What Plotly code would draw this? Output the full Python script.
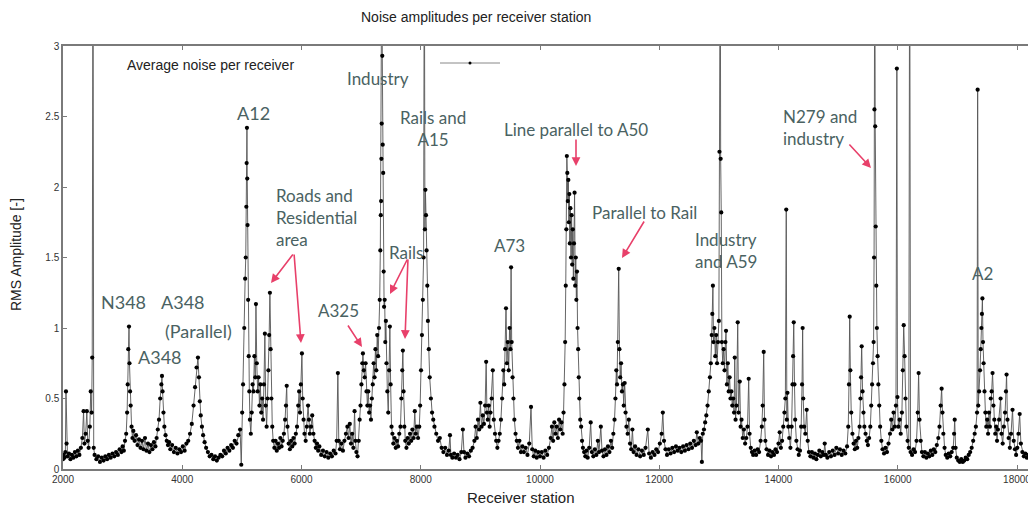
import plotly.graph_objects as go

# ---------------- data: (receiver station, RMS amplitude) ----------------
seg_2000_3500 = [
    (2000, 0.07), (2010, 0.10), (2025, 0.08), (2040, 0.12), (2050, 0.55), (2060, 0.18), (2075, 0.09),
    (2100, 0.11), (2125, 0.07), (2150, 0.10), (2175, 0.08), (2200, 0.12), (2225, 0.09), (2250, 0.13),
    (2275, 0.10), (2300, 0.15), (2325, 0.22), (2345, 0.41), (2360, 0.18), (2380, 0.25), (2400, 0.41),
    (2415, 0.20), (2430, 0.15), (2450, 0.30), (2465, 0.55), (2480, 0.40), (2490, 0.79), (2503, 4.0),
    (2515, 0.15), (2530, 0.10), (2560, 0.07), (2590, 0.09), (2620, 0.05), (2650, 0.08), (2680, 0.06),
    (2710, 0.09), (2740, 0.07), (2770, 0.10), (2800, 0.08), (2830, 0.11), (2860, 0.09), (2890, 0.12),
    (2920, 0.10), (2950, 0.14), (2980, 0.12), (3000, 0.16), (3020, 0.13), (3040, 0.20), (3060, 0.25),
    (3075, 0.40), (3085, 0.60), (3095, 0.85), (3107, 1.01), (3115, 0.75), (3125, 0.55), (3135, 0.45),
    (3150, 0.30), (3165, 0.22), (3180, 0.27), (3200, 0.20), (3225, 0.24), (3250, 0.17), (3275, 0.21),
    (3300, 0.15), (3325, 0.20), (3350, 0.14), (3375, 0.22), (3400, 0.13), (3425, 0.18), (3450, 0.12),
    (3475, 0.17),
]
seg_3500_5500 = [
    (3500, 0.14), (3525, 0.19), (3550, 0.16), (3570, 0.22), (3590, 0.28), (3610, 0.35), (3630, 0.50),
    (3650, 0.60), (3660, 0.66), (3670, 0.55), (3685, 0.40), (3700, 0.30), (3720, 0.24), (3740, 0.20),
    (3760, 0.17), (3780, 0.19), (3800, 0.14), (3830, 0.17), (3860, 0.12), (3890, 0.15), (3920, 0.11),
    (3950, 0.14), (3980, 0.12), (4010, 0.16), (4040, 0.13), (4070, 0.18), (4100, 0.20), (4130, 0.25),
    (4160, 0.32), (4190, 0.45), (4215, 0.58), (4240, 0.72), (4263, 0.79), (4280, 0.65), (4295, 0.48),
    (4310, 0.38), (4330, 0.30), (4350, 0.24), (4375, 0.19), (4400, 0.15), (4430, 0.12), (4460, 0.09),
    (4490, 0.10), (4520, 0.07), (4550, 0.09), (4580, 0.06), (4610, 0.08), (4640, 0.10), (4670, 0.09),
    (4700, 0.13), (4730, 0.11), (4760, 0.15), (4790, 0.13), (4820, 0.17), (4850, 0.15), (4880, 0.20),
    (4910, 0.18), (4940, 0.24), (4970, 0.28), (4990, 0.03), (5005, 0.40), (5020, 0.60), (5040, 1.00),
    (5055, 1.35), (5065, 1.50), (5075, 1.86), (5080, 2.17), (5085, 2.42), (5090, 2.06), (5095, 1.73),
    (5105, 1.20), (5115, 0.80), (5125, 0.55), (5135, 0.35), (5150, 0.25), (5165, 0.40), (5180, 0.60),
    (5195, 0.55), (5210, 0.80), (5225, 0.65), (5236, 1.17), (5250, 0.75), (5265, 0.55), (5280, 0.65),
    (5295, 0.45), (5310, 0.60), (5325, 0.40), (5340, 0.50), (5355, 0.35), (5370, 0.60), (5386, 0.96),
    (5400, 0.45), (5415, 0.30), (5430, 0.50), (5445, 0.70), (5458, 0.95), (5470, 1.25), (5482, 0.85),
    (5495, 0.50),
]
seg_5500_7500 = [
    (5510, 0.30), (5525, 0.20), (5545, 0.15), (5565, 0.20), (5585, 0.13), (5605, 0.18), (5625, 0.15),
    (5645, 0.22), (5665, 0.16), (5685, 0.20), (5705, 0.25), (5725, 0.35), (5740, 0.45), (5752, 0.59),
    (5765, 0.30), (5785, 0.18), (5805, 0.14), (5825, 0.20), (5845, 0.16), (5865, 0.22), (5885, 0.18),
    (5905, 0.25), (5925, 0.30), (5945, 0.45), (5960, 0.55), (5975, 0.40), (5990, 0.60), (6007, 0.82),
    (6020, 0.50), (6035, 0.35), (6050, 0.25), (6070, 0.20), (6090, 0.30), (6110, 0.45), (6125, 0.35),
    (6140, 0.25), (6160, 0.30), (6180, 0.38), (6200, 0.25), (6220, 0.20), (6240, 0.15), (6260, 0.18),
    (6280, 0.13), (6300, 0.16), (6330, 0.10), (6360, 0.13), (6390, 0.09), (6420, 0.12), (6450, 0.08),
    (6480, 0.11), (6510, 0.09), (6540, 0.13), (6570, 0.11), (6590, 0.20), (6610, 0.68), (6625, 0.20),
    (6645, 0.14), (6670, 0.18), (6695, 0.13), (6720, 0.20), (6745, 0.25), (6770, 0.30), (6790, 0.22),
    (6810, 0.32), (6830, 0.18), (6850, 0.25), (6870, 0.15), (6890, 0.41), (6905, 0.20), (6920, 0.12),
    (6940, 0.09), (6960, 0.20), (6975, 0.35), (6990, 0.45), (7005, 0.60), (7020, 0.75), (7030, 0.82),
    (7045, 0.70), (7060, 0.65), (7075, 0.75), (7090, 0.55), (7105, 0.45), (7120, 0.55), (7135, 0.40),
    (7150, 0.45), (7165, 0.35), (7180, 0.50), (7195, 0.60), (7210, 0.75), (7225, 0.65), (7240, 0.85),
    (7255, 0.70), (7270, 0.95), (7285, 0.80), (7300, 1.00), (7312, 1.20), (7322, 1.55), (7330, 1.80),
    (7335, 1.90), (7340, 2.20), (7345, 2.45), (7350, 4.0), (7355, 2.93), (7362, 2.30), (7370, 2.10),
    (7378, 1.40), (7385, 1.15), (7395, 1.20), (7405, 0.90), (7415, 1.05), (7425, 0.75), (7440, 0.55),
    (7455, 0.40), (7470, 0.70), (7482, 1.01), (7495, 0.60),
]
seg_7500_9500 = [
    (7510, 0.30), (7525, 0.25), (7540, 0.18), (7560, 0.22), (7580, 0.15), (7600, 0.20), (7620, 0.16),
    (7640, 0.25), (7660, 0.30), (7675, 0.50), (7690, 0.70), (7700, 0.84), (7712, 0.55), (7725, 0.30),
    (7740, 0.20), (7760, 0.15), (7780, 0.22), (7800, 0.18), (7820, 0.25), (7840, 0.20), (7860, 0.28),
    (7880, 0.22), (7900, 0.41), (7915, 0.25), (7935, 0.30), (7955, 0.22), (7975, 0.30), (7990, 0.45),
    (8005, 0.70), (8020, 0.95), (8035, 1.20), (8048, 1.50), (8060, 4.0), (8070, 1.70), (8078, 1.98),
    (8088, 1.80), (8098, 1.55), (8110, 1.30), (8120, 1.05), (8135, 0.85), (8150, 0.65), (8170, 0.50),
    (8190, 0.40), (8210, 0.35), (8230, 0.30), (8260, 0.25), (8290, 0.20), (8320, 0.22), (8350, 0.15),
    (8380, 0.12), (8410, 0.15), (8440, 0.10), (8470, 0.13), (8490, 0.24), (8505, 0.10), (8530, 0.08),
    (8560, 0.11), (8590, 0.08), (8620, 0.10), (8650, 0.07), (8680, 0.12), (8706, 0.28), (8725, 0.12),
    (8750, 0.08), (8780, 0.11), (8810, 0.09), (8840, 0.13), (8870, 0.15), (8900, 0.20), (8920, 0.30),
    (8940, 0.22), (8960, 0.35), (8980, 0.28), (9000, 0.47), (9020, 0.30), (9040, 0.38), (9060, 0.32),
    (9080, 0.45), (9097, 0.76), (9110, 0.40), (9125, 0.35), (9140, 0.45), (9155, 0.30), (9170, 0.40),
    (9190, 0.50), (9208, 0.70), (9225, 0.35), (9245, 0.25), (9265, 0.20), (9285, 0.15), (9305, 0.20),
    (9325, 0.25), (9345, 0.35), (9365, 0.50), (9385, 0.70), (9400, 0.60), (9415, 0.85), (9430, 1.14),
    (9445, 0.75), (9460, 0.90), (9475, 0.70), (9490, 1.00),
]
seg_9500_11500 = [
    (9505, 0.85), (9515, 1.43), (9525, 0.90), (9540, 0.65), (9555, 0.50), (9570, 0.35), (9590, 0.25),
    (9610, 0.20), (9630, 0.15), (9655, 0.20), (9680, 0.12), (9705, 0.16), (9730, 0.12), (9760, 0.15),
    (9790, 0.10), (9820, 0.18), (9849, 0.44), (9870, 0.14), (9895, 0.09), (9920, 0.13), (9945, 0.08),
    (9970, 0.12), (10000, 0.09), (10030, 0.12), (10060, 0.08), (10090, 0.13), (10120, 0.10), (10150, 0.15),
    (10180, 0.22), (10200, 0.30), (10220, 0.20), (10240, 0.33), (10260, 0.25), (10280, 0.30), (10300, 0.22),
    (10320, 0.35), (10340, 0.28), (10360, 0.33), (10380, 0.25), (10395, 0.40), (10410, 0.60), (10422, 0.90),
    (10432, 1.30), (10442, 1.70), (10450, 2.22), (10458, 2.10), (10466, 1.90), (10475, 2.05), (10484, 1.75),
    (10492, 1.95), (10500, 1.60), (10510, 1.85), (10520, 1.50), (10530, 1.80), (10540, 1.45), (10550, 1.70),
    (10560, 1.35), (10570, 1.60), (10580, 1.96), (10590, 1.30), (10600, 1.50), (10610, 1.20), (10620, 1.40),
    (10630, 1.00), (10640, 0.85), (10650, 0.65), (10660, 0.50), (10675, 0.35), (10690, 0.30), (10705, 0.20),
    (10720, 0.15), (10740, 0.12), (10760, 0.09), (10780, 0.13), (10800, 0.08), (10825, 0.15), (10850, 0.33),
    (10870, 0.12), (10895, 0.09), (10920, 0.14), (10945, 0.10), (10970, 0.20), (10990, 0.12), (11020, 0.30),
    (11040, 0.13), (11065, 0.09), (11090, 0.14), (11115, 0.10), (11140, 0.16), (11165, 0.12), (11190, 0.20),
    (11210, 0.15), (11230, 0.25), (11250, 0.35), (11265, 0.50), (11280, 0.70), (11292, 0.60), (11305, 0.90),
    (11320, 1.42), (11332, 0.85), (11345, 0.65), (11360, 0.75), (11375, 0.55), (11390, 0.60), (11405, 0.45),
    (11420, 0.61), (11435, 0.40), (11450, 0.30), (11470, 0.25), (11490, 0.35),
]
seg_11500_13500 = [
    (11510, 0.18), (11530, 0.14), (11550, 0.28), (11570, 0.12), (11595, 0.16), (11620, 0.10), (11650, 0.14),
    (11680, 0.09), (11710, 0.13), (11740, 0.10), (11770, 0.15), (11808, 0.28), (11830, 0.11), (11860, 0.08),
    (11890, 0.12), (11920, 0.10), (11950, 0.14), (11980, 0.12), (12010, 0.18), (12040, 0.25), (12060, 0.40),
    (12080, 0.20), (12105, 0.14), (12130, 0.10), (12160, 0.14), (12190, 0.11), (12220, 0.15), (12250, 0.12),
    (12280, 0.16), (12310, 0.13), (12340, 0.15), (12370, 0.12), (12400, 0.16), (12430, 0.13), (12460, 0.17),
    (12490, 0.14), (12520, 0.18), (12550, 0.15), (12580, 0.20), (12610, 0.17), (12630, 0.26), (12655, 0.18),
    (12680, 0.22), (12700, 0.20), (12715, 0.05), (12730, 0.25), (12750, 0.28), (12770, 0.33), (12790, 0.38),
    (12810, 0.45), (12830, 0.55), (12850, 0.65), (12865, 0.75), (12880, 0.95), (12890, 1.10), (12900, 1.30),
    (12910, 0.90), (12925, 1.00), (12940, 0.80), (12955, 0.95), (12970, 0.75), (12985, 0.90), (13000, 1.05),
    (13010, 2.25), (13023, 4.0), (13030, 2.20), (13040, 1.82), (13050, 0.90), (13065, 0.75), (13080, 0.85),
    (13095, 0.70), (13110, 0.90), (13120, 0.98), (13135, 0.60), (13150, 0.75), (13165, 0.55), (13180, 0.65),
    (13195, 0.50), (13210, 0.55), (13225, 0.45), (13240, 0.50), (13255, 0.40), (13266, 0.79), (13280, 0.35),
    (13295, 0.45), (13316, 1.04), (13330, 0.40), (13350, 0.62), (13365, 0.30), (13380, 0.35), (13400, 0.22),
    (13420, 0.28), (13440, 0.18), (13460, 0.22), (13480, 0.30),
]
seg_13500_15500 = [
    (13500, 0.64), (13515, 0.25), (13535, 0.15), (13555, 0.12), (13575, 0.10), (13600, 0.13), (13625, 0.10),
    (13650, 0.14), (13675, 0.12), (13700, 0.20), (13720, 0.30), (13735, 0.45), (13752, 0.83), (13765, 0.35),
    (13780, 0.20), (13800, 0.14), (13825, 0.10), (13850, 0.13), (13875, 0.09), (13900, 0.12), (13925, 0.10),
    (13950, 0.14), (13975, 0.12), (14000, 0.18), (14020, 0.26), (14040, 0.15), (14060, 0.20), (14080, 0.30),
    (14100, 0.40), (14115, 0.50), (14130, 1.84), (14140, 0.35), (14150, 0.54), (14165, 0.30), (14180, 0.22),
    (14200, 0.15), (14220, 0.30), (14235, 0.60), (14245, 0.80), (14256, 1.04), (14268, 0.60), (14280, 0.35),
    (14300, 0.20), (14320, 0.14), (14340, 0.10), (14360, 0.13), (14380, 0.30), (14395, 0.60), (14405, 1.00),
    (14415, 0.50), (14430, 0.30), (14450, 0.25), (14473, 0.42), (14490, 0.20), (14510, 0.12), (14535, 0.09),
    (14560, 0.12), (14585, 0.08), (14610, 0.11), (14635, 0.07), (14660, 0.10), (14685, 0.13), (14710, 0.09),
    (14735, 0.12), (14760, 0.10), (14775, 0.18), (14795, 0.10), (14820, 0.08), (14850, 0.12), (14880, 0.09),
    (14910, 0.13), (14940, 0.10), (14970, 0.15), (15000, 0.11), (15030, 0.14), (15060, 0.10), (15090, 0.13),
    (15120, 0.11), (15150, 0.16), (15170, 0.30), (15182, 0.60), (15194, 1.08), (15205, 0.70), (15220, 0.40),
    (15240, 0.25), (15260, 0.18), (15280, 0.14), (15300, 0.20), (15320, 0.15), (15340, 0.22), (15360, 0.30),
    (15375, 0.50), (15385, 0.65), (15395, 0.87), (15410, 0.55), (15425, 0.40), (15440, 0.30), (15460, 0.25),
    (15480, 0.20),
]
seg_15500_18318 = [
    (15500, 0.17), (15520, 0.22), (15540, 0.30), (15555, 0.45), (15570, 0.60), (15585, 0.75), (15595, 0.90),
    (15603, 1.50), (15609, 2.55), (15615, 4.0), (15622, 2.43), (15630, 1.72), (15640, 1.30), (15650, 1.00),
    (15662, 0.80), (15675, 0.60), (15690, 0.45), (15705, 0.30), (15725, 0.20), (15745, 0.14), (15770, 0.11),
    (15795, 0.15), (15820, 0.12), (15845, 0.18), (15870, 0.25), (15890, 0.35), (15910, 0.28), (15930, 0.40),
    (15950, 0.30), (15970, 0.45), (15985, 2.84), (15995, 0.51), (16010, 0.30), (16030, 0.35), (16050, 0.25),
    (16070, 0.40), (16085, 0.70), (16100, 1.02), (16115, 0.80), (16130, 0.50), (16145, 0.30), (16165, 0.20),
    (16185, 0.15), (16200, 4.0), (16215, 0.12), (16240, 0.10), (16265, 0.14), (16290, 0.12), (16315, 0.20),
    (16335, 0.40), (16350, 0.68), (16365, 0.35), (16385, 0.20), (16405, 0.12), (16430, 0.09), (16455, 0.12),
    (16480, 0.08), (16505, 0.11), (16530, 0.09), (16555, 0.13), (16580, 0.10), (16605, 0.14), (16630, 0.12),
    (16655, 0.17), (16680, 0.22), (16700, 0.30), (16720, 0.45), (16736, 0.57), (16750, 0.40), (16765, 0.25),
    (16785, 0.15), (16805, 0.10), (16830, 0.08), (16855, 0.11), (16880, 0.09), (16905, 0.12), (16930, 0.15),
    (16945, 0.25), (16955, 0.35), (16970, 0.15), (16990, 0.08), (17015, 0.06), (17040, 0.05), (17065, 0.07),
    (17090, 0.05), (17115, 0.06), (17140, 0.08), (17165, 0.07), (17190, 0.10), (17215, 0.12), (17240, 0.15),
    (17265, 0.20), (17290, 0.25), (17310, 0.30), (17330, 0.40), (17340, 2.69), (17350, 0.45), (17365, 0.55),
    (17380, 0.70), (17392, 0.85), (17403, 1.00), (17412, 1.10), (17420, 1.21), (17430, 0.90), (17440, 0.75),
    (17455, 0.55), (17470, 0.40), (17485, 0.30), (17500, 0.35), (17515, 0.25), (17530, 0.40), (17545, 0.30),
    (17560, 0.50), (17575, 0.55), (17590, 0.68), (17605, 0.45), (17620, 0.35), (17635, 0.25), (17650, 0.30),
    (17665, 0.20), (17680, 0.28), (17700, 0.35), (17725, 0.50), (17740, 0.25), (17760, 0.18), (17780, 0.30),
    (17800, 0.40), (17815, 0.55), (17825, 0.67), (17840, 0.35), (17860, 0.22), (17880, 0.15), (17900, 0.25),
    (17925, 0.42), (17945, 0.20), (17965, 0.14), (17985, 0.10), (18005, 0.15), (18025, 0.25), (18045, 0.39),
    (18065, 0.18), (18090, 0.12), (18115, 0.09), (18140, 0.11), (18165, 0.08), (18190, 0.10), (18215, 0.09),
    (18240, 0.12), (18265, 0.20), (18280, 0.35), (18295, 0.45), (18305, 0.62), (18318, 0.50),
]

x_tick_values = [2000, 4000, 6000, 8000, 10000, 12000, 14000, 16000, 18000]
x_tick_labels = ["2000", "4000", "6000", "8000", "10000", "12000", "14000", "16000", "18000"]
y_tick_values = [0, 0.5, 1, 1.5, 2, 2.5, 3]
y_tick_labels = ["0", "0.5", "1", "1.5", "2", "2.5", "3"]

# ---------------- build series ----------------
segments = [seg_2000_3500, seg_3500_5500, seg_5500_7500, seg_7500_9500,
            seg_9500_11500, seg_11500_13500, seg_13500_15500, seg_15500_18318]
pairs = sorted(p for seg in segments for p in seg)
stations = [p[0] for p in pairs]
amplitudes = [p[1] for p in pairs]

# ---------------- layout geometry ----------------
# the page body adds an 8 px offset; positions below are given in window pixels
OFF = 8
W, H = 1036 - OFF, 510 - OFF
L, T, B, R = 63 - OFF, 46 - OFF, 510 - 469, 0
X0, X1 = 2000, 2000 + (W - L - R) * 16000 / 954.0
pw, ph = W - L - R, H - T - B


def px(xp):  # window pixel -> paper x
    return (xp - OFF - L) / pw


def py(yp):  # window pixel -> paper y
    return (H - B - (yp - OFF)) / ph


fig = go.Figure()
fig.add_trace(go.Scatter(
    x=stations, y=amplitudes, mode="lines+markers",
    line=dict(color="#555555", width=0.9),
    marker=dict(color="black", size=4.2),
    name="Average noise per receiver", showlegend=False,
))

TEXT = "#4a6262"
ARROW = "#e8406a"
FONT = "Lato, Open Sans, sans-serif"

annotations = []


def label(text, xp, yp, size=17, xanchor="center", align="center"):
    annotations.append(dict(
        text=text, x=px(xp), y=py(yp), xref="paper", yref="paper",
        xanchor=xanchor, yanchor="middle", align=align, showarrow=False,
        font=dict(family=FONT, size=size, color=TEXT)))


def arrow(tail, tip):
    annotations.append(dict(
        text="", x=px(tip[0]), y=py(tip[1]), xref="paper", yref="paper",
        ax=tail[0] - tip[0], ay=tail[1] - tip[1], showarrow=True,
        arrowhead=2, arrowsize=1.1, arrowwidth=1.6, arrowcolor=ARROW))


label("A12", 253, 113, 18)
label("Industry", 378, 78)
label("Rails and<br>A15", 433, 129)
label("Line parallel to A50", 576, 130)
label("Roads and<br>Residential<br>area", 274, 217, xanchor="left", align="left")
label("Rails", 406, 252)
label("Parallel to Rail", 644, 212)
label("Industry<br>and A59", 693, 250, xanchor="left", align="left")
label("N279 and<br>industry", 781, 128, xanchor="left", align="left")
label("A73", 509, 245)
label("A2", 982, 273)
label("N348", 123, 302, 18)
label("A348", 183, 302, 18)
label("(Parallel)", 198, 331, 18)
label("A348", 160, 357, 18)
label("A325", 338, 310)

arrow((294, 253), (271, 283))
arrow((294, 253), (301, 343))
arrow((347, 324), (362, 347))
arrow((408, 258), (390, 294))
arrow((408, 258), (405, 339))
arrow((576, 138), (576, 166))
arrow((645, 220), (622, 258))
arrow((848, 143), (871, 168))

# title, axis titles, legend text
annotations.append(dict(text="Noise amplitudes per receiver station", x=px(476), y=py(17),
                        xref="paper", yref="paper", showarrow=False, xanchor="center", yanchor="middle",
                        font=dict(family="Liberation Sans, Arial", size=14, color="#222")))
annotations.append(dict(text="Receiver station", x=px(521), y=py(497),
                        xref="paper", yref="paper", showarrow=False, xanchor="center", yanchor="middle",
                        font=dict(family="Liberation Sans, Arial", size=15, color="#222")))
annotations.append(dict(text="RMS Amplitude [-]", x=px(16), y=py(255), textangle=-90,
                        xref="paper", yref="paper", showarrow=False, xanchor="center", yanchor="middle",
                        font=dict(family="Liberation Sans, Arial", size=14, color="#222")))
annotations.append(dict(text="Average noise per receiver", x=px(125), y=py(65),
                        xref="paper", yref="paper", showarrow=False, xanchor="left", yanchor="middle",
                        font=dict(family="Liberation Sans, Arial", size=14, color="#222")))

shapes = [
    dict(type="line", xref="paper", yref="paper", x0=px(440), x1=px(500), y0=py(63), y1=py(63),
         line=dict(color="#888", width=1)),
    dict(type="circle", xref="paper", yref="paper", x0=px(468.5), x1=px(471.5), y0=py(64.5), y1=py(61.5),
         fillcolor="black", line=dict(color="black", width=0)),
]

fig.update_layout(
    width=W, height=H,
    margin=dict(l=L, r=R, t=T, b=B, pad=0),
    paper_bgcolor="white", plot_bgcolor="white",
    annotations=annotations, shapes=shapes,
    showlegend=False,
    xaxis=dict(range=[X0, X1], tickvals=x_tick_values, ticktext=x_tick_labels,
               showgrid=False, zeroline=False, showline=True, linecolor="#7a7a7a", linewidth=1.5,
               mirror="ticks", ticks="inside", ticklen=4, tickcolor="#7a7a7a",
               tickfont=dict(family="Liberation Sans, Arial", size=10, color="#333")),
    yaxis=dict(range=[0, 3], tickvals=y_tick_values, ticktext=y_tick_labels,
               showgrid=False, zeroline=False, showline=True, linecolor="#7a7a7a", linewidth=1.5,
               ticks="inside", ticklen=4, tickcolor="#7a7a7a",
               tickfont=dict(family="Liberation Sans, Arial", size=10, color="#333")),
)

fig.write_html("out.html")
